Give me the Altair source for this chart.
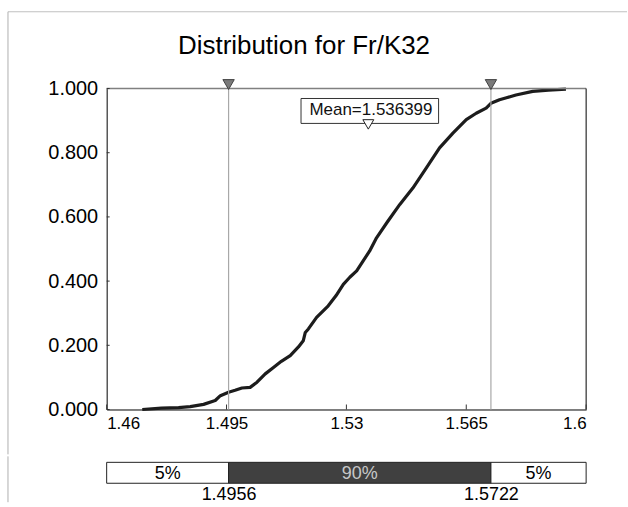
import altair as alt
import pandas as pd

title_text = "Distribution for Fr/K32"

cdf_x = [1.4704, 1.4760, 1.4810, 1.4844, 1.4883, 1.4917, 1.4932, 1.4956, 1.4975, 1.4995,
         1.5019, 1.5039, 1.5063, 1.5087, 1.5110, 1.5136, 1.5160, 1.5174, 1.5180, 1.5189,
         1.5213, 1.5247, 1.5270, 1.5291, 1.5310, 1.5330, 1.5349, 1.5368, 1.5388, 1.5420,
         1.5456, 1.5494, 1.5533, 1.5572, 1.5611, 1.5650, 1.5679, 1.5708, 1.5722, 1.5747,
         1.5770, 1.5795, 1.5844, 1.5890, 1.5941]
cdf_p = [0.000, 0.004, 0.006, 0.009, 0.016, 0.028, 0.043, 0.054, 0.060, 0.067,
         0.069, 0.085, 0.111, 0.131, 0.150, 0.168, 0.195, 0.214, 0.240, 0.251,
         0.287, 0.323, 0.355, 0.390, 0.412, 0.432, 0.463, 0.494, 0.535, 0.585,
         0.639, 0.690, 0.752, 0.815, 0.861, 0.903, 0.923, 0.939, 0.954, 0.965,
         0.972, 0.980, 0.991, 0.995, 0.998]

p5 = 1.4956
p95 = 1.5722
mean_val = 1.536399
mean_label = "Mean=1.536399"

x_ticks = [1.46, 1.495, 1.53, 1.565, 1.6]
y_ticks = [0.0, 0.2, 0.4, 0.6, 0.8, 1.0]

seg_start = [1.46, 1.4956, 1.5722]
seg_end = [1.4956, 1.5722, 1.6]
seg_label = ["5%", "90%", "5%"]
seg_kind = ["tail", "mid", "tail2"]

FONT = "Liberation Sans"
W, H = 481, 322
xdom = [1.46, 1.6]
xs = alt.Scale(domain=xdom, nice=False, zero=False)
ys = alt.Scale(domain=[0, 1], nice=False, zero=False)

cdf_df = pd.DataFrame({"x": cdf_x, "p": cdf_p})
pct_df = pd.DataFrame({"x": [p5, p95]})
mean_df = pd.DataFrame({"x": [mean_val], "label": [mean_label]})
xt_df = pd.DataFrame({"x": x_ticks})
yt_df = pd.DataFrame({"p": y_ticks})
seg_df = pd.DataFrame({"s": seg_start, "e": seg_end, "label": seg_label, "kind": seg_kind})
seg_df["m"] = (seg_df["s"] + seg_df["e"]) / 2
title_df = pd.DataFrame({"t": [title_text]})
one = pd.DataFrame({"a": [0]})

x_axis = alt.Axis(values=x_ticks, labelExpr="datum.value + ''", ticks=False, grid=False,
                  domain=True, domainColor="black", domainWidth=1, labelFont=FONT,
                  labelFontSize=17, labelColor="black", labelPadding=6, title=None)
y_axis = alt.Axis(values=y_ticks, format=".3f", ticks=False, grid=False, domain=True,
                  domainColor="black", domainWidth=1, labelFont=FONT, labelFontSize=20,
                  labelColor="black", labelPadding=9, title=None)

# decorative frame (top and left edges of the original picture)
frame_top = alt.Chart(one).mark_rule(color="#c0c0c0", strokeWidth=1).encode(
    x=alt.value(-99), x2=alt.value(522), y=alt.value(-77))
frame_left = alt.Chart(one).mark_rule(color="#b0b0b0", strokeWidth=1).encode(
    x=alt.value(-99), y=alt.value(-77), y2=alt.value(367))
frame_left2 = alt.Chart(one).mark_rule(color="#b0b0b0", strokeWidth=1).encode(
    x=alt.value(-99), y=alt.value(-6), y2=alt.value(40))

title_mark = alt.Chart(title_df).mark_text(font=FONT, fontSize=26, align="center",
                                           baseline="alphabetic", color="black").encode(
    x=alt.value(198), y=alt.value(-35), text="t:N")

top_border = alt.Chart(one).mark_rule(color="#808080", strokeWidth=1.5).encode(
    x=alt.datum(1.46, scale=xs), x2=alt.datum(1.6), y=alt.datum(1.0, scale=ys))
right_border = alt.Chart(one).mark_rule(color="black", strokeWidth=1).encode(
    x=alt.datum(1.6, scale=xs), y=alt.datum(0.0, scale=ys), y2=alt.datum(1.0))

vlines = alt.Chart(pct_df).mark_rule(color="#a8a8a8", strokeWidth=1.2).encode(
    x=alt.X("x:Q", scale=xs), y=alt.datum(0.0, scale=ys), y2=alt.datum(1.0))

xticks = alt.Chart(xt_df).mark_rule(color="#333333", strokeWidth=1, y2Offset=-5).encode(
    x=alt.X("x:Q", scale=xs), y=alt.datum(0.0, scale=ys), y2=alt.datum(0.0))
yticks = alt.Chart(yt_df).mark_rule(color="#333333", strokeWidth=1, x2Offset=3).encode(
    y=alt.Y("p:Q", scale=ys), x=alt.datum(1.46, scale=xs), x2=alt.datum(1.46))

curve = alt.Chart(cdf_df).mark_line(color="#1c1c1c", strokeWidth=3.2, strokeJoin="round").encode(
    x=alt.X("x:Q", scale=xs, axis=x_axis),
    y=alt.Y("p:Q", scale=ys, axis=y_axis),
)

tri = alt.Chart(pct_df).mark_point(shape="triangle-down", size=130, filled=True, fill="#7a7a7a",
                                   stroke="#404040", strokeWidth=1, opacity=1, yOffset=-4).encode(
    x=alt.X("x:Q", scale=xs), y=alt.datum(1.0, scale=ys))

mean_box = alt.Chart(mean_df).mark_rect(fill="white", stroke="#333333", strokeWidth=1,
                                        xOffset=-67.5, x2Offset=70.5, yOffset=10, y2Offset=35).encode(
    x=alt.X("x:Q", scale=xs), x2=alt.X2("x:Q"), y=alt.datum(1.0, scale=ys), y2=alt.datum(1.0))
mean_text = alt.Chart(mean_df).mark_text(font=FONT, fontSize=17, align="left", baseline="middle",
                                         dx=-59, dy=22, color="#111111").encode(
    x=alt.X("x:Q", scale=xs), y=alt.datum(1.0, scale=ys), text="label:N")
mean_tri = alt.Chart(mean_df).mark_point(shape="triangle-down", size=120, filled=True, fill="white",
                                         stroke="#222222", strokeWidth=1, opacity=1, yOffset=36).encode(
    x=alt.X("x:Q", scale=xs), y=alt.datum(1.0, scale=ys))

top = alt.layer(
    frame_top, frame_left, title_mark, curve, vlines, top_border, right_border, xticks, yticks,
    tri, mean_box, mean_text, mean_tri,
).properties(width=W, height=H)

bar = alt.Chart(seg_df).mark_rect(stroke="#222222", strokeWidth=1).encode(
    x=alt.X("s:Q", scale=xs, axis=alt.Axis(values=[p5, p95], format=".4f", ticks=False, grid=False,
                                           domain=False, labelFont=FONT, labelFontSize=18,
                                           labelColor="black", labelPadding=2, title=None)),
    x2="e:Q",
    fill=alt.Fill("kind:N", scale=alt.Scale(domain=["tail", "mid", "tail2"],
                                             range=["white", "#404040", "white"]), legend=None),
)
bar_text = alt.Chart(seg_df).mark_text(font=FONT, fontSize=18, baseline="middle", dy=1).encode(
    x=alt.X("m:Q", scale=xs), y=alt.value(10.5), text="label:N",
    color=alt.Color("kind:N", scale=alt.Scale(domain=["tail", "mid", "tail2"],
                                               range=["black", "#c8c8c8", "black"]), legend=None),
)
bottom = alt.layer(frame_left2, bar, bar_text).properties(width=W, height=21)

chart = alt.vconcat(top, bottom, spacing=0).properties(
    padding={"left": 7, "top": 10, "right": 0, "bottom": 0},
    background="white",
).configure_view(stroke=None)

chart.save("out.html", embed_options={"renderer": "svg", "actions": False})
